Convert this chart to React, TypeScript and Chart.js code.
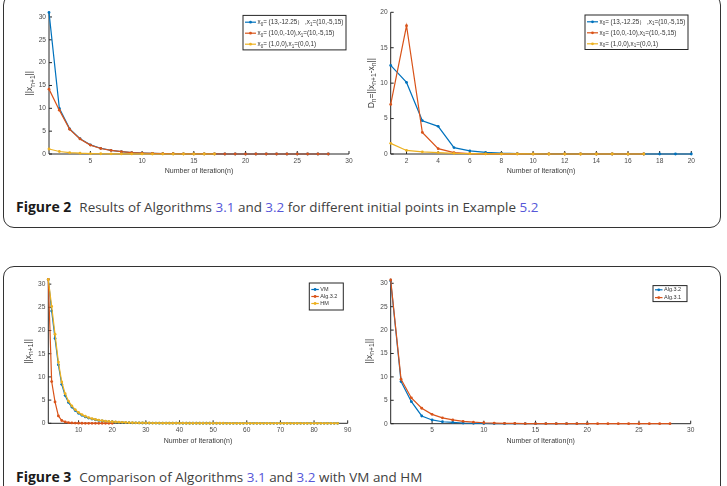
import { useEffect, useRef } from 'react';
import { Chart, registerables } from 'chart.js';

Chart.register(...registerables);

// ---------- data ----------
const normTicks = [0, 5, 10, 15, 20, 25, 30];
const dnTicks = [0, 5, 10, 15, 20];
const iterTicks30 = [5, 10, 15, 20, 25, 30];
const iterTicks20 = [2, 4, 6, 8, 10, 12, 14, 16, 18, 20];
const iterTicks90 = [10, 20, 30, 40, 50, 60, 70, 80, 90];

const startLabels = [
  'x_{0}= (13,-12.25） ,x_{1}=(10,-5,15)',
  'x_{0}= (10,0,-10),x_{1}=(10,-5,15)',
  'x_{0}= (1,0,0),x_{1}=(0,0,1)',
];

// Figure 2, left: ||x_{n+1}|| per starting pair
const normStartA = [31.0, 10.0, 5.5, 3.35, 2.0, 1.25, 0.8, 0.5, 0.32, 0.2, 0.13, 0.08, 0.05, 0.03, 0.02, 0.013, 0.008, 0.005, 0.003, 0.002, 0.001, 0.001, 0, 0, 0, 0, 0, 0];
const normStartB = [14.2, 9.6, 5.4, 3.3, 1.95, 1.2, 0.78, 0.5, 0.32, 0.2, 0.13, 0.08, 0.05, 0.03, 0.02, 0.013, 0.008, 0.005, 0.003, 0.002, 0.001, 0.001, 0, 0, 0, 0, 0, 0];
const normStartC = [1.1, 0.55, 0.3, 0.17, 0.1, 0.06, 0.035, 0.02, 0.012, 0.007, 0.004, 0.002, 0.001, 0.001, 0, 0, 0];

// Figure 2, right: D_n = ||x_{n+1} - x_n|| per starting pair
const stepStartA = [12.5, 10.1, 4.7, 3.9, 0.9, 0.45, 0.22, 0.11, 0.06, 0.03, 0.015, 0.008, 0.004, 0.002, 0.001, 0.001, 0, 0, 0, 0];
const stepStartB = [7.0, 18.1, 3.05, 0.75, 0.2, 0.06, 0.02, 0.01, 0.005, 0.002, 0.001, 0, 0, 0, 0, 0, 0];
const stepStartC = [1.5, 0.5, 0.3, 0.2, 0.1, 0.05, 0.03, 0.015, 0.008, 0.004, 0.002, 0.001, 0, 0, 0, 0, 0];

// Figure 3, left: VM, Alg.3.2 and HM
const vmNorm = [
  31.0, 24.2, 18.3, 12.6, 8.4, 6.0, 4.5, 3.5, 2.75, 2.15,
  1.72, 1.38, 1.12, 0.92, 0.76, 0.63, 0.52, 0.43, 0.36, 0.3,
  0.25, 0.21, 0.18, 0.15, 0.13, 0.11, 0.095, 0.08, 0.07, 0.06,
  0.052, 0.045, 0.04, 0.035, 0.031, 0.027, 0.024, 0.021, 0.019, 0.017,
  0.015, 0.013, 0.012, 0.011, 0.01, 0.009, 0.008, 0.007, 0.006, 0.006,
  0.005, 0.005, 0.004, 0.004, 0.004, 0.003, 0.003, 0.003, 0.002, 0.002,
  0.002, 0.002, 0.002, 0.001, 0.001, 0.001, 0.001, 0.001, 0.001, 0.001,
  0.001, 0.001, 0.001, 0.001, 0.001, 0.001, 0.001, 0.001, 0.001, 0.001,
  0.001, 0.001, 0.001, 0.001, 0.001, 0.001, 0.001,
];
const alg32Norm = [31.0, 9.0, 4.6, 1.6, 0.6, 0.3, 0.15, 0.08, 0.04, 0.02, 0.01, 0.005, 0.003, 0.002, 0.001, 0.001, 0, 0, 0, 0];
const hmNorm = [
  31.0, 25.2, 19.2, 13.2, 8.9, 6.4, 4.8, 3.75, 2.95, 2.35,
  1.88, 1.52, 1.24, 1.02, 0.84, 0.7, 0.58, 0.48, 0.4, 0.34,
  0.28, 0.24, 0.2, 0.17, 0.14, 0.12, 0.1, 0.09, 0.08, 0.07,
  0.06, 0.053, 0.047, 0.041, 0.036, 0.032, 0.028, 0.025, 0.022, 0.02,
  0.018, 0.016, 0.014, 0.013, 0.012, 0.011, 0.01, 0.009, 0.008, 0.007,
  0.007, 0.006, 0.006, 0.005, 0.005, 0.004, 0.004, 0.004, 0.003, 0.003,
  0.003, 0.003, 0.002, 0.002, 0.002, 0.002, 0.002, 0.002, 0.001, 0.001,
  0.001, 0.001, 0.001, 0.001, 0.001, 0.001, 0.001, 0.001, 0.001, 0.001,
  0.001, 0.001, 0.001, 0.001, 0.001, 0.001, 0.001,
];

// Figure 3, right: Alg.3.2 vs Alg.3.1
const alg32NormB = [30.5, 9.0, 4.7, 1.65, 0.8, 0.42, 0.28, 0.15, 0.08, 0.04, 0.02, 0.01, 0.005, 0.003, 0.002, 0.001, 0.001, 0, 0, 0];
const alg31Norm = [30.7, 9.5, 5.5, 3.3, 2.0, 1.25, 0.8, 0.5, 0.32, 0.2, 0.13, 0.08, 0.05, 0.03, 0.02, 0.013, 0.008, 0.005, 0.003, 0.002, 0.001, 0.001, 0, 0, 0, 0, 0, 0];

// ---------- styling ----------
const BLUE = '#0072BD';
const ORANGE = '#D95319';
const YELLOW = '#EDB120';
const AXIS = '#262626';
const TICK_TEXT = '#4a4a4a';
const FONT = '"Liberation Sans", Arial, sans-serif';

type Part = { t: string; sub: boolean };

// split "x_{n+1}" style strings into normal and subscript runs
function parseRich(s: string): Part[] {
  const out: Part[] = [];
  let i = 0;
  while (i < s.length) {
    const j = s.indexOf('_{', i);
    if (j < 0) {
      out.push({ t: s.slice(i), sub: false });
      break;
    }
    if (j > i) out.push({ t: s.slice(i, j), sub: false });
    const k = s.indexOf('}', j);
    out.push({ t: s.slice(j + 2, k), sub: true });
    i = k + 1;
  }
  return out;
}

function drawRich(ctx: CanvasRenderingContext2D, s: string, x: number, y: number, size: number, color: string, align: 'left' | 'center', subRatio = 0.72) {
  const parts = parseRich(s);
  const subSize = size * subRatio;
  const fontOf = (p: Part) => `${p.sub ? subSize : size}px ${FONT}`;
  let total = 0;
  for (const p of parts) {
    ctx.font = fontOf(p);
    total += ctx.measureText(p.t).width;
  }
  let cx = align === 'center' ? x - total / 2 : x;
  ctx.fillStyle = color;
  ctx.textBaseline = 'middle';
  ctx.textAlign = 'left';
  for (const p of parts) {
    ctx.font = fontOf(p);
    ctx.fillText(p.t, cx, p.sub ? y + size * 0.35 : y);
    cx += ctx.measureText(p.t).width;
  }
}

// MATLAB-like axes: left/bottom lines, inward ticks, rich titles and a boxed legend
const matlabPlugin = {
  id: 'matlab',
  beforeDatasetsDraw(chart: any, _args: any, opts: any) {
    const { ctx, chartArea: a, scales } = chart;
    ctx.save();
    ctx.strokeStyle = AXIS;
    ctx.lineWidth = 1;
    ctx.beginPath();
    ctx.moveTo(a.left, a.top);
    ctx.lineTo(a.left, a.bottom);
    ctx.lineTo(a.right, a.bottom);
    const tl = opts.tickLen ?? 3;
    for (const t of scales.x.ticks) {
      const px = scales.x.getPixelForValue(t.value);
      ctx.moveTo(px, a.bottom);
      ctx.lineTo(px, a.bottom - tl);
    }
    for (const t of scales.y.ticks) {
      const py = scales.y.getPixelForValue(t.value);
      ctx.moveTo(a.left, py);
      ctx.lineTo(a.left + tl, py);
    }
    ctx.stroke();
    ctx.restore();
  },
  afterDraw(chart: any, _args: any, opts: any) {
    const { ctx, chartArea: a } = chart;
    ctx.save();
    // x title
    drawRich(ctx, opts.xTitle, (a.left + a.right) / 2, a.bottom + opts.xTitleGap, opts.titleSize, '#3a3a3a', 'center');
    // y title (rotated)
    ctx.save();
    ctx.translate(a.left - opts.yTitleGap, (a.top + a.bottom) / 2);
    ctx.rotate(-Math.PI / 2);
    drawRich(ctx, opts.yTitle, 0, 0, opts.yTitleSize, '#3a3a3a', 'center', 0.78);
    ctx.restore();
    // legend
    const L = opts.legend;
    const bx = a.right - L.right - L.width;
    const by = a.top + L.top;
    ctx.fillStyle = '#ffffff';
    ctx.fillRect(bx, by, L.width, L.height);
    ctx.strokeStyle = AXIS;
    ctx.lineWidth = 1;
    ctx.strokeRect(bx, by, L.width, L.height);
    chart.data.datasets.forEach((ds: any, i: number) => {
      const y = by + L.rowTop + i * L.rowGap;
      const x0 = bx + 2;
      const x1 = x0 + L.sample;
      ctx.strokeStyle = ds.borderColor;
      ctx.lineWidth = 1.2;
      ctx.beginPath();
      ctx.moveTo(x0, y);
      ctx.lineTo(x1, y);
      ctx.stroke();
      ctx.fillStyle = ds.borderColor;
      ctx.beginPath();
      ctx.arc((x0 + x1) / 2, y, 1.4, 0, Math.PI * 2);
      ctx.fill();
      drawRich(ctx, ds.label, x1 + 1.5, y, L.font, '#333333', 'left');
    });
    ctx.restore();
  },
};

type Box = { left: number; top: number; width: number; height: number };
type Plot = { left: number; top: number; right: number; bottom: number };
type Series = { label: string; values: number[]; color: string };
type Spec = {
  canvas: Box;
  plot: Plot;
  xMax: number;
  xTicks: number[];
  yMax: number;
  yTicks: number[];
  xTitle: string;
  yTitle: string;
  yTitleGap: number;
  series: Series[];
  legend: { right: number; top: number; width: number; height: number; rowTop: number; rowGap: number; font: number; sample: number };
};

function ChartPanel({ spec }: { spec: Spec }) {
  const ref = useRef<HTMLCanvasElement>(null);
  const c = spec.canvas;
  const p = spec.plot;
  useEffect(() => {
    const tickFont = { family: FONT, size: 6.6 };
    const chart = new Chart(ref.current as HTMLCanvasElement, {
      type: 'line',
      data: {
        datasets: spec.series.map((s, i) => ({
          label: s.label,
          data: s.values.map((v, k) => ({ x: k + 1, y: v })),
          borderColor: s.color,
          backgroundColor: s.color,
          borderWidth: 1.2,
          pointRadius: 1.4,
          pointBorderWidth: 0,
          pointBackgroundColor: s.color,
          tension: 0,
          clip: 6,
          order: spec.series.length - i,
        })),
      },
      options: {
        responsive: false,
        animation: false,
        devicePixelRatio: 1,
        events: [],
        layout: {
          padding: { top: p.top - c.top, right: c.left + c.width - p.right, left: 0, bottom: 0 },
        },
        plugins: {
          legend: { display: false },
          tooltip: { enabled: false },
          matlab: {
            xTitle: spec.xTitle,
            yTitle: spec.yTitle,
            xTitleGap: 17.5,
            yTitleGap: spec.yTitleGap,
            titleSize: 7,
            yTitleSize: 8.6,
            tickLen: 3,
            legend: spec.legend,
          },
        } as any,
        scales: {
          x: {
            type: 'linear',
            min: 1,
            max: spec.xMax,
            grid: { display: false, drawTicks: false },
            border: { display: false },
            ticks: { font: tickFont, color: TICK_TEXT, padding: 3, maxRotation: 0, autoSkip: false },
            afterBuildTicks: (s: any) => {
              s.ticks = spec.xTicks.map((v) => ({ value: v }));
            },
            afterFit: (s: any) => {
              s.height = c.top + c.height - p.bottom;
            },
          },
          y: {
            type: 'linear',
            min: 0,
            max: spec.yMax,
            grid: { display: false, drawTicks: false },
            border: { display: false },
            ticks: { font: tickFont, color: TICK_TEXT, padding: 3, autoSkip: false },
            afterBuildTicks: (s: any) => {
              s.ticks = spec.yTicks.map((v) => ({ value: v }));
            },
            afterFit: (s: any) => {
              s.width = p.left - c.left;
            },
          },
        },
      } as any,
      plugins: [matlabPlugin],
    });
    return () => chart.destroy();
  }, [spec]);
  return (
    <canvas
      ref={ref}
      width={c.width}
      height={c.height}
      style={{ position: 'absolute', left: c.left, top: c.top, width: c.width, height: c.height }}
    />
  );
}

const bigLegend = { right: 3, top: 3, width: 103, height: 34.5, rowTop: 6.8, rowGap: 11, font: 6.3, sample: 11 };

const specs: Spec[] = [
  {
    canvas: { left: 4, top: 0, width: 360, height: 189 },
    plot: { left: 49, top: 12.4, right: 349, bottom: 154 },
    xMax: 30,
    xTicks: iterTicks30,
    yMax: 31,
    yTicks: normTicks,
    xTitle: 'Number of Iteration(n)',
    yTitle: '||x_{n+1}||',
    yTitleGap: 19,
    series: [
      { label: startLabels[0], values: normStartA, color: BLUE },
      { label: startLabels[1], values: normStartB, color: ORANGE },
      { label: startLabels[2], values: normStartC, color: YELLOW },
    ],
    legend: bigLegend,
  },
  {
    canvas: { left: 364, top: 0, width: 363, height: 189 },
    plot: { left: 390.7, top: 12.3, right: 691.3, bottom: 154 },
    xMax: 20,
    xTicks: iterTicks20,
    yMax: 20,
    yTicks: dnTicks,
    xTitle: 'Number of Iteration(n)',
    yTitle: 'D_{n}=||x_{n+1}-x_{n}||',
    yTitleGap: 19.5,
    series: [
      { label: startLabels[0], values: stepStartA, color: BLUE },
      { label: startLabels[1], values: stepStartB, color: ORANGE },
      { label: startLabels[2], values: stepStartC, color: YELLOW },
    ],
    legend: { ...bigLegend, right: 3.3, top: 2.7 },
  },
  {
    canvas: { left: 4, top: 268, width: 360, height: 190 },
    plot: { left: 48.3, top: 279.5, right: 347.7, bottom: 423.3 },
    xMax: 90,
    xTicks: iterTicks90,
    yMax: 31,
    yTicks: normTicks,
    xTitle: 'Number of Iteration(n)',
    yTitle: '||x_{n+1}||',
    yTitleGap: 20,
    series: [
      { label: 'VM', values: vmNorm, color: BLUE },
      { label: 'Alg.3.2', values: alg32Norm, color: ORANGE },
      { label: 'HM', values: hmNorm, color: YELLOW },
    ],
    legend: { right: 4.4, top: 3.5, width: 34, height: 27, rowTop: 6.5, rowGap: 7, font: 5.5, sample: 7.5 },
  },
  {
    canvas: { left: 364, top: 268, width: 363, height: 190 },
    plot: { left: 390.7, top: 278.6, right: 690.7, bottom: 423.7 },
    xMax: 30,
    xTicks: iterTicks30,
    yMax: 31,
    yTicks: normTicks,
    xTitle: 'Number of Iteration(n)',
    yTitle: '||x_{n+1}||',
    yTitleGap: 21.5,
    series: [
      { label: 'Alg.3.2', values: alg32NormB, color: BLUE },
      { label: 'Alg.3.1', values: alg31Norm, color: ORANGE },
    ],
    legend: { right: 3.7, top: 7, width: 34, height: 16, rowTop: 4.2, rowGap: 7.8, font: 5.5, sample: 7.5 },
  },
];

const frame = {
  position: 'absolute' as const,
  left: 3,
  width: 718,
  border: '1.5px solid #333',
  borderRadius: 11,
  boxSizing: 'border-box' as const,
};

const capStyle = {
  position: 'absolute' as const,
  left: 16,
  fontFamily: '"Open Sans", "Noto Sans", sans-serif',
  fontSize: 13.45,
  lineHeight: '18px',
  color: '#404040',
  whiteSpace: 'nowrap' as const,
};
const ref = { color: '#5656d8' };
const bold = { fontWeight: 700, color: '#1a1a1a', fontSize: 14, marginRight: 8 };

export default function App() {
  return (
    <div style={{ position: 'absolute', left: 0, top: 0, width: 727, height: 486, overflow: 'hidden', background: '#fff' }}>
      <div style={{ ...frame, top: -6, height: 234 }} />
      <div style={{ ...frame, top: 266, height: 240 }} />
      {specs.map((s, i) => (
        <ChartPanel key={i} spec={s} />
      ))}
      <div style={{ ...capStyle, top: 197.7 }}>
        <span style={bold}>Figure 2</span>
        Results of Algorithms <span style={ref}>3.1</span> and <span style={ref}>3.2</span> for different initial points in Example <span style={ref}>5.2</span>
      </div>
      <div style={{ ...capStyle, top: 467.7 }}>
        <span style={bold}>Figure 3</span>
        Comparison of Algorithms <span style={ref}>3.1</span> and <span style={ref}>3.2</span> with VM and HM
      </div>
    </div>
  );
}
